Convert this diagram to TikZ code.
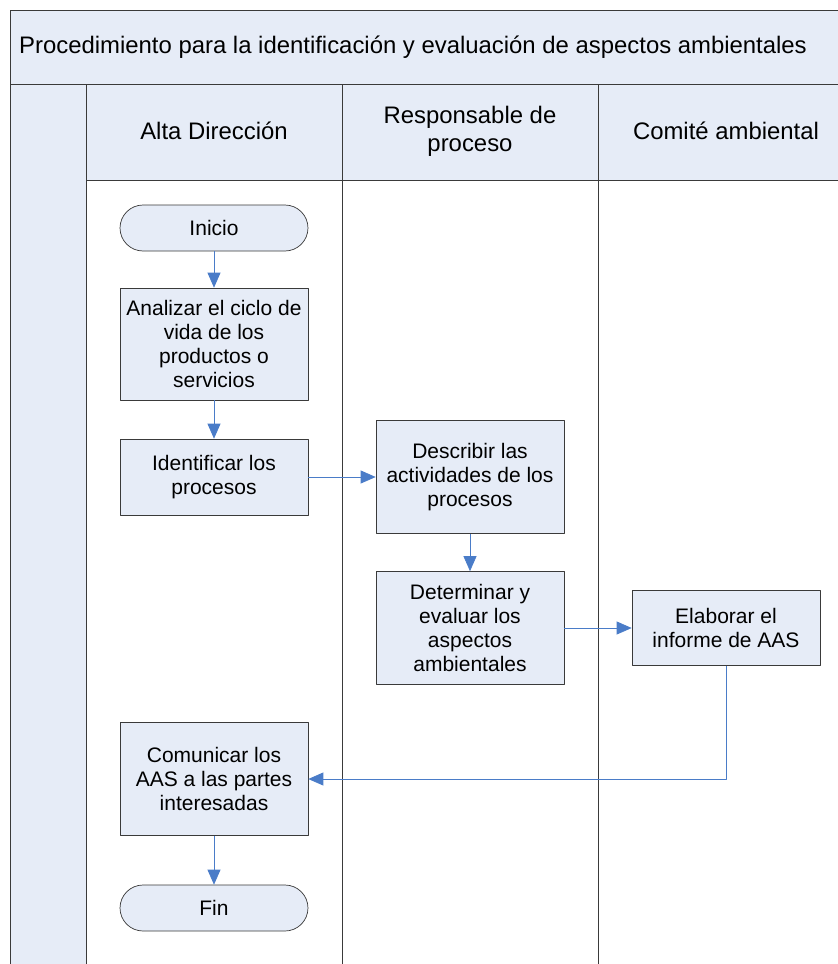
\documentclass[tikz,border=0pt]{standalone}
\usepackage{fontspec}
\setmainfont{Liberation Sans}
\usetikzlibrary{arrows.meta}
\definecolor{relleno}{HTML}{E6ECF7}
\definecolor{flecha}{HTML}{4A7CC8}
\definecolor{borde}{HTML}{3A3A3A}
\begin{document}
\begin{tikzpicture}[x=0.02cm, y=-0.02cm, line join=round,
	font=\fontsize{11.95pt}{13.6pt}\selectfont,
	caja/.style={draw=borde, fill=relleno, align=center, minimum width=3.76cm, inner sep=1pt},
	terminal/.style={caja, rounded corners=0.46cm, minimum height=0.92cm},
	cabecera/.style={align=center, font=\fontsize{13.6pt}{16pt}\selectfont},
	flujo/.style={draw=flecha, -{Triangle[length=0.3cm,width=0.26cm]}}]
	\def\ancho{838} % ancho del dibujo
	\def\alto{964} % alto del dibujo
	\useasboundingbox (0,0) rectangle (\ancho,\alto);
	\clip (0,0) rectangle (\ancho,\alto);
	% marco y carriles
	\draw[borde, fill=relleno] (10,10) rectangle (900,84);
	\draw[borde, fill=relleno] (10,84) rectangle (86,1000);
	\draw[borde, fill=relleno] (86,84) rectangle (900,180);
	\foreach \carril in {86,342,598} \draw[borde] (\carril,84)--(\carril,1000);
	\draw[borde] (10,84)--(900,84);
	\node[cabecera, anchor=west] (titulo) at (13,47) {Procedimiento para la identificación y evaluación de aspectos ambientales};
	\node[cabecera] (alta) at (214,131) {Alta Dirección};
	\node[cabecera] (resp) at (470,131) {Responsable de\\proceso};
	\node[cabecera] (comite) at (726,131) {Comité ambiental};
	% actividades
	\node[terminal] (inicio) at (214,228) {Inicio};
	\node[caja, minimum height=2.24cm] (analizar) at (214,344) {Analizar el ciclo de\\vida de los\\productos o\\servicios};
	\node[caja, minimum height=1.52cm] (identificar) at (214,477) {Identificar los\\procesos};
	\node[caja, minimum height=2.26cm] (describir) at (470,477) {Describir las\\actividades de los\\procesos};
	\node[caja, minimum height=2.26cm] (determinar) at (470,628) {Determinar y\\evaluar los\\aspectos\\ambientales};
	\node[caja, minimum height=1.5cm] (elaborar) at (726,628) {Elaborar el\\informe de AAS};
	\node[caja, minimum height=2.26cm] (comunicar) at (214,779) {Comunicar los\\AAS a las partes\\interesadas};
	\node[terminal] (fin) at (214,908) {Fin};
	% conexiones
	\draw[flujo] (inicio)--(analizar);
	\draw[flujo] (analizar)--(identificar);
	\draw[flujo] (identificar)--(describir);
	\draw[flujo] (describir)--(determinar);
	\draw[flujo] (determinar)--(elaborar);
	\draw[flujo] (elaborar.south) |- (comunicar.east);
	\draw[flujo] (comunicar)--(fin);
\end{tikzpicture}
\end{document}
